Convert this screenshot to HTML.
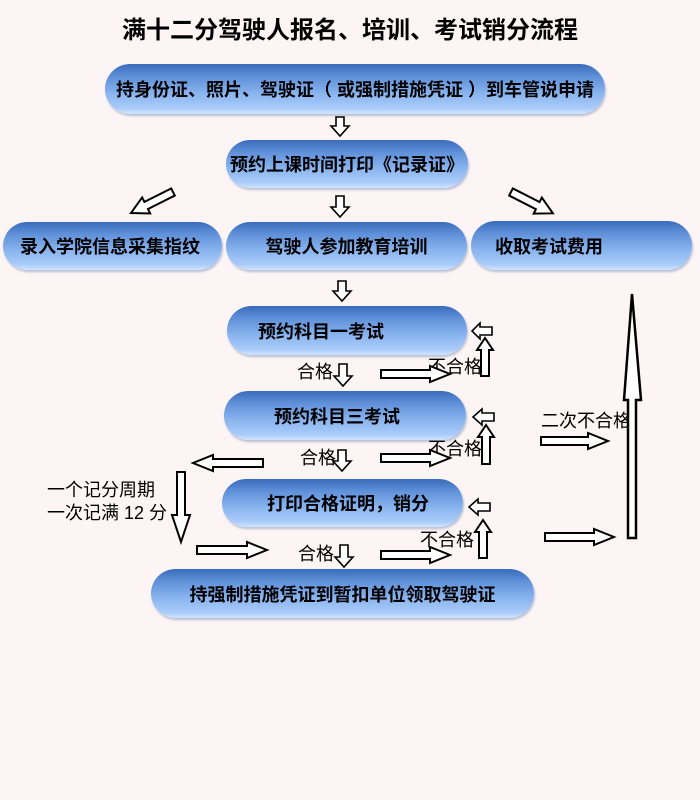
<!DOCTYPE html>
<html><head><meta charset="utf-8"><style>
body{margin:0;width:700px;height:800px;background:#fdf5f5;position:relative;overflow:hidden;font-family:"Liberation Sans","Noto Sans CJK SC",sans-serif;}
.p{position:absolute;border-radius:25px;background:linear-gradient(180deg,#3a6cbc 0%,#5f90d8 25%,#8ab5ef 60%,#a9cbf9 88%,#d0e4fd 100%);box-shadow:1px 2px 2px rgba(60,90,140,.35);font-weight:bold;font-size:18px;color:#000;display:flex;align-items:center;white-space:nowrap;}
.t{position:absolute;font-size:18px;color:#000;white-space:nowrap;}
svg{position:absolute;left:0;top:0}
</style></head><body>
<div class="t" style="left:0;width:700px;text-align:center;top:10px;font-size:24px;font-weight:bold">满十二分驾驶人报名、培训、考试销分流程</div>
<div class="p" style="left:105px;top:64px;width:500px;height:50px;justify-content:center;font-size:18px">持身份证、照片、驾驶证（ 或强制措施凭证 ）到车管说申请</div>
<div class="p" style="left:226px;top:140px;width:242px;height:48px;justify-content:center">预约上课时间打印《记录证》</div>
<div class="p" style="left:3px;top:222px;width:219px;height:48px;padding-left:17px;box-sizing:border-box">录入学院信息采集指纹</div>
<div class="p" style="left:226px;top:222px;width:241px;height:48px;justify-content:center">驾驶人参加教育培训</div>
<div class="p" style="left:471px;top:221px;width:221px;height:49px;padding-left:24px;box-sizing:border-box">收取考试费用</div>
<div class="p" style="left:227px;top:306px;width:240px;height:49px;padding-left:31px;box-sizing:border-box">预约科目一考试</div>
<div class="p" style="left:224px;top:391px;width:242px;height:49px;padding-left:50px;box-sizing:border-box">预约科目三考试</div>
<div class="p" style="left:222px;top:479px;width:241px;height:48px;padding-left:45px;box-sizing:border-box">打印合格证明，销分</div>
<div class="p" style="left:151px;top:569px;width:383px;height:49px;justify-content:center">持强制措施凭证到暂扣单位领取驾驶证</div>

<div class="t" style="left:297px;top:358px">合格</div>
<div class="t" style="left:428px;top:353px">不合格</div>
<div class="t" style="left:300px;top:444px">合格</div>
<div class="t" style="left:428px;top:435px">不合格</div>
<div class="t" style="left:541px;top:407px">二次不合格</div>
<div class="t" style="left:47px;top:476px">一个记分周期</div>
<div class="t" style="left:47px;top:499px">一次记满 12 分</div>
<div class="t" style="left:420px;top:526px">不合格</div>
<div class="t" style="left:298px;top:540px">合格</div>

<svg width="700" height="800" fill="#fff" stroke="#000" stroke-width="1.6" stroke-linejoin="miter">
<polygon points="336,117 344,117 344,126 349,126 340,136 331,126 336,126"/>
<polygon points="336,196 344,196 344,207 349,207 340,217 331,207 336,207"/>
<polygon points="338,281 346,281 346,291 351,291 342,301 333,291 338,291"/>
<polygon points="339,364 347,364 347,376 352,376 343,386 334,376 339,376"/>
<polygon points="338,450 346,450 346,461 351,461 342,471 333,461 338,461"/>
<polygon points="340,545 348,545 348,557 353,557 344,567 335,557 340,557"/>
<polygon points="177,472 185,472 185,515 190,515 181,542 172,515 177,515" stroke-width="2"/>
<polygon points="381,370 430,370 430,366 450,374 430,382 430,378 381,378" stroke-width="2"/>
<polygon points="381,454 430,454 430,450 450,458 430,466 430,462 381,462" stroke-width="2"/>
<polygon points="381,551 430,551 430,547 450,555 430,563 430,559 381,559" stroke-width="2"/>
<polygon points="541,437 588,437 588,433 608,441 588,449 588,445 541,445" stroke-width="2"/>
<polygon points="545,533 594,533 594,529 614,537 594,545 594,541 545,541" stroke-width="2"/>
<polygon points="197,546 247,546 247,542 267,550 247,558 247,554 197,554" stroke-width="2"/>
<polygon points="263,459 213,459 213,455 193,463 213,471 213,467 263,467" stroke-width="2"/>
<polygon points="492,327 480,327 480,323 472,331 480,339 480,335 492,335"/>
<polygon points="494,413 482,413 482,409 473,417 482,425 482,421 494,421"/>
<polygon points="490,503 478,503 478,499 469,507 478,515 478,511 490,511"/>
<polygon points="481,376 489,376 489,350 493,350 485,338 477,350 481,350" stroke-width="2"/>
<polygon points="482,464 490,464 490,437 494,437 486,425 478,437 482,437" stroke-width="2"/>
<polygon points="479,558 487,558 487,532 491,532 483,520 475,532 479,532" stroke-width="2"/>
<polygon points="628,538 636,538 636,400 641,400 632,294 624,400 628,400" stroke-width="2.5"/>
<g transform="translate(173,192) rotate(153.4)"><polygon points="0,-4 30,-4 30,-9 47,0 30,9 30,4 0,4" stroke-width="2"/></g>
<g transform="translate(511,192) rotate(27)"><polygon points="0,-4 30,-4 30,-9 47,0 30,9 30,4 0,4" stroke-width="2"/></g>
</svg>
</body></html>
